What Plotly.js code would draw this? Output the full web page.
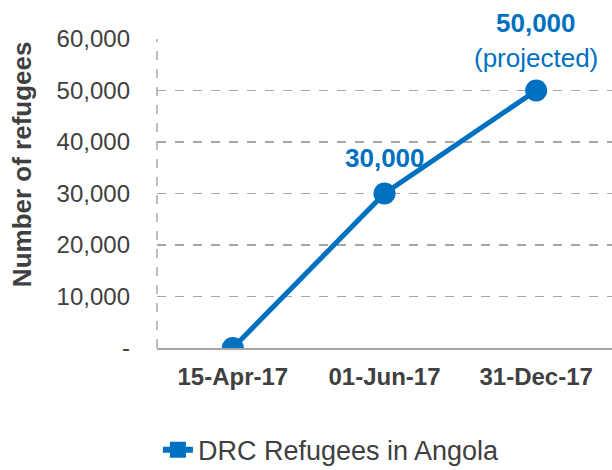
<!DOCTYPE html>
<html><head><meta charset="utf-8">
<script src="https://cdn.plot.ly/plotly-3.0.1.min.js"></script>
<style>html,body{margin:0;padding:0;background:#fff}#chart{width:612px;height:470px}</style>
</head><body><div id="chart"></div>
<script>
const categories = ["15-Apr-17", "01-Jun-17", "31-Dec-17"];
const refugees = [0, 30000, 50000];
const labelNotes = ["", "", "(projected)"];
const showLabel = [false, true, true];
const yTickVals = [0, 10000, 20000, 30000, 40000, 50000, 60000];
const yTickText = ["-", "10,000", "20,000", "30,000", "40,000", "50,000", "60,000"];
const seriesName = "DRC Refugees in Angola";
const yTitle = "Number of refugees";

const blue = "#0070C0";
const font = "Liberation Sans, Arial, sans-serif";
const fmt = v => v.toLocaleString("en-US");

const annotations = [];
categories.forEach((c, i) => {
  if (!showLabel[i]) return;
  annotations.push({x: c, y: refugees[i], xref: "x", yref: "y", showarrow: false,
    text: "<b>" + fmt(refugees[i]) + "</b>", font: {family: font, size: 26, color: blue},
    yshift: labelNotes[i] ? 68 : 36});
  if (labelNotes[i]) annotations.push({x: c, y: refugees[i], xref: "x", yref: "y", showarrow: false,
    text: labelNotes[i], font: {family: font, size: 26, color: blue}, yshift: 33});
});
annotations.push({x: -0.2967, y: 0.595, xref: "paper", yref: "paper", showarrow: false,
  textangle: -90, xanchor: "center", yanchor: "middle",
  text: "<b>" + yTitle + "</b>", font: {family: font, size: 26, color: "#404040"}});

const traces = [
  {x: categories, y: refugees, type: "scatter", mode: "lines+markers", showlegend: false,
   line: {color: blue, width: 5}, marker: {color: blue, size: 22, symbol: "circle"}, hoverinfo: "skip"},
  {x: [null], y: [null], type: "scatter", mode: "lines+markers", name: seriesName,
   line: {color: blue, width: 6}, marker: {color: blue, size: 16, symbol: "square"}}
];

const layout = {
  width: 612, height: 470,
  margin: {l: 157, r: 0, t: 39, b: 122},
  paper_bgcolor: "#fff", plot_bgcolor: "#fff",
  font: {family: font, color: "#404040", size: 24},
  xaxis: {type: "category", range: [-0.5, 2.5], showgrid: false, zeroline: false,
    showline: true, linecolor: "#A6A6A6", linewidth: 1.5, ticks: "",
    tickfont: {family: font, size: 24, color: "#404040", weight: "bold"}, ticklabelstandoff: 7},
  yaxis: {range: [0, 60000], tickvals: yTickVals, ticktext: yTickText,
    showgrid: true, gridcolor: "#A6A6A6", griddash: "dash", gridwidth: 1.5, zeroline: false,
    showline: false, ticks: "", tickfont: {family: font, size: 24, color: "#404040"},
    ticklabelstandoff: 26},
  shapes: [{type: "line", xref: "paper", yref: "paper", x0: 0, x1: 0, y0: 0, y1: 1,
    line: {color: "#A6A6A6", width: 1.5, dash: "dash"}}],
  annotations: annotations,
  legend: {orientation: "h", x: 0.258, xanchor: "left", xref: "container", y: 0.042, yanchor: "middle", yref: "container",
    font: {family: font, size: 27, color: "#404040"}, itemwidth: 30},
  showlegend: true
};
Plotly.newPlot("chart", traces, layout, {displayModeBar: false, staticPlot: true});
</script></body></html>
